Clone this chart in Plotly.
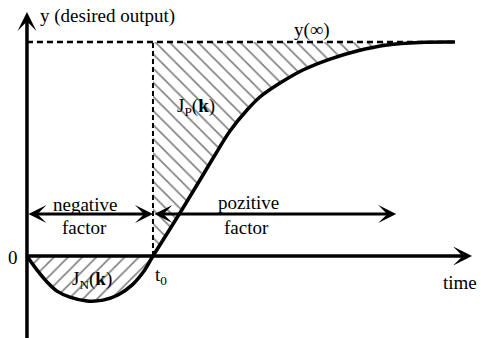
import plotly.graph_objects as go

# curve: time (t0 = 1) and output (y(inf) = 1)
t_neg = [0.0, 0.079, 0.159, 0.238, 0.341, 0.476, 0.603, 0.722, 0.833, 0.929, 1.0]
y_neg = [0.0, -0.065, -0.121, -0.164, -0.192, -0.210, -0.206, -0.182, -0.136, -0.070, 0.0]
t_pos = [1.0, 1.214, 1.373, 1.492, 1.611, 1.746, 1.849, 2.008, 2.19, 2.405, 2.619, 2.857, 3.119, 3.397]
y_pos = [0.0, 0.201, 0.355, 0.472, 0.584, 0.682, 0.743, 0.808, 0.869, 0.920, 0.958, 0.986, 0.998, 1.0]

t_curve = t_neg + t_pos[1:]
y_curve = y_neg + y_pos[1:]

t0 = 1.0
y_inf = 1.0
t_end = 3.397
arrow_level = 0.196   # height of the "negative / pozitive factor" arrows
pos_arrow_end = 2.93

FONT = dict(family="Liberation Serif, Times New Roman, serif", size=19, color="black")
HATCH = dict(size=10, solidity=0.16, fgcolor="black", bgcolor="white")
NOLINE = dict(width=0, color="rgba(0,0,0,0)")

fig = go.Figure()

# hatched area J_N : between zero line and negative part of the curve
fig.add_trace(go.Scatter(x=[0, t0], y=[0, 0], mode="lines", line=NOLINE, hoverinfo="skip"))
fig.add_trace(go.Scatter(x=t_neg, y=y_neg, mode="lines", line_shape="spline", line=NOLINE,
                         fill="tonexty", fillcolor="white",
                         fillpattern=dict(shape="/", **HATCH), hoverinfo="skip"))

# hatched area J_P : between y(inf) and positive part of the curve
fig.add_trace(go.Scatter(x=[t0, t_end], y=[y_inf, y_inf], mode="lines", line=NOLINE,
                         hoverinfo="skip"))
fig.add_trace(go.Scatter(x=t_pos, y=y_pos, mode="lines", line_shape="spline", line=NOLINE,
                         fill="tonexty", fillcolor="white",
                         fillpattern=dict(shape="\\", **HATCH), hoverinfo="skip"))

# dashed guide lines
fig.add_trace(go.Scatter(x=[0, t_end], y=[y_inf, y_inf], mode="lines",
                         line=dict(color="black", width=2.5, dash="6px,4px")))
fig.add_trace(go.Scatter(x=[t0, t0], y=[0, y_inf], mode="lines",
                         line=dict(color="black", width=2, dash="5px,3px")))

# the response curve
fig.add_trace(go.Scatter(x=t_curve, y=y_curve, mode="lines", line_shape="spline",
                         line=dict(color="black", width=3.5)))

anns = []
# axes with arrows
anns.append(dict(x=0, y=1.14, ax=0, ay=-0.4, xref="x", yref="y", axref="x", ayref="y",
                 showarrow=True, arrowhead=3, arrowsize=0.9, arrowwidth=3.5,
                 arrowcolor="black", text=""))
anns.append(dict(x=3.532, y=0, ax=0, ay=0, xref="x", yref="y", axref="x", ayref="y",
                 showarrow=True, arrowhead=3, arrowsize=0.9, arrowwidth=3.5,
                 arrowcolor="black", text=""))
# double arrows
for a, b in [(0, t0), (t0, pos_arrow_end)]:
    anns.append(dict(x=b, y=arrow_level, ax=a, ay=arrow_level, xref="x", yref="y",
                     axref="x", ayref="y", showarrow=True, arrowside="end+start",
                     arrowhead=3, startarrowhead=3, arrowsize=1, startarrowsize=1,
                     arrowwidth=3, arrowcolor="black", text=""))

labels = [
    (0.087, 1.121, "y (desired output)", "left"),
    (2.262, 1.056, "y(∞)", "center"),
    (1.341, 0.696, "J<sub>P</sub>(<b>k</b>)", "center"),
    (0.516, -0.112, "J<sub>N</sub>(<b>k</b>)", "center"),
    (-0.111, -0.009, "0", "center"),
    (1.063, -0.093, "t<sub>0</sub>", "center"),
    (3.437, -0.126, "time", "center"),
    (0.46, 0.243, "negative", "center"),
    (0.46, 0.131, "factor", "center"),
    (1.754, 0.252, "pozitive", "center"),
    (1.746, 0.131, "factor", "center"),
]
for x, y, txt, xa in labels:
    anns.append(dict(x=x, y=y, xref="x", yref="y", text=txt, showarrow=False,
                     xanchor=xa, yanchor="middle", font=FONT))

fig.update_layout(
    width=481, height=338,
    margin=dict(l=0, r=0, t=0, b=0),
    paper_bgcolor="white", plot_bgcolor="white",
    showlegend=False,
    annotations=anns,
    xaxis=dict(range=[-0.214, 3.603], visible=False, fixedrange=True),
    yaxis=dict(range=[-0.383, 1.196], visible=False, fixedrange=True),
)

fig.write_html("out.html", config={"displayModeBar": False},
               post_script="document.body.style.margin='0px';")
